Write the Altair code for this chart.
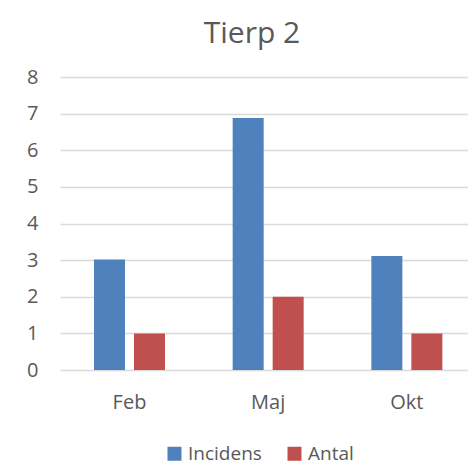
import altair as alt
import pandas as pd

months = ["Feb", "Maj", "Okt"]
series = ["Incidens", "Antal"]
incidens = [3.02, 6.88, 3.11]
antal = [1, 2, 1]
colors = ["#4F81BD", "#C0504D"]
y_ticks = [0, 1, 2, 3, 4, 5, 6, 7, 8]

rows = []
for m, v in zip(months, incidens):
    rows.append({"Månad": m, "Serie": "Incidens", "Värde": v})
for m, v in zip(months, antal):
    rows.append({"Månad": m, "Serie": "Antal", "Värde": v})
df = pd.DataFrame(rows)

FONT = "Open Sans"
TXT = "#595959"

chart = alt.Chart(df).mark_bar().encode(
    x=alt.X("Månad:N", sort=months,
            scale=alt.Scale(paddingInner=0.488, paddingOuter=0.215, align=0.57),
            axis=alt.Axis(title=None, labelAngle=0, ticks=False, domain=False,
                          labelFontSize=20, labelColor=TXT, labelFont=FONT,
                          labelPadding=22)),
    xOffset=alt.XOffset("Serie:N", sort=series,
                        scale=alt.Scale(paddingInner=0.225, paddingOuter=0)),
    y=alt.Y("Värde:Q",
            scale=alt.Scale(domain=[0, 8], nice=False),
            axis=alt.Axis(title=None, values=y_ticks, ticks=False, domain=False,
                          labelFontSize=20, labelColor=TXT, labelFont=FONT,
                          labelPadding=22, gridColor="#D9D9D9", gridWidth=1.3)),
    color=alt.Color("Serie:N", sort=series,
                    scale=alt.Scale(domain=series, range=colors),
                    legend=alt.Legend(title=None, orient="none", direction="horizontal",
                                      legendX=105, legendY=367,
                                      symbolType="square", symbolSize=196,
                                      symbolStrokeWidth=0,
                                      labelFontSize=19, labelColor=TXT, labelFont=FONT,
                                      labelOffset=4, columnPadding=23, padding=0)),
).properties(
    width=408,
    height=293,
    autosize=alt.AutoSizeParams(type="none"),
    padding={"left": 52, "top": 69, "right": 0, "bottom": 100},
    title=alt.TitleParams("Tierp 2", font=FONT, fontSize=30, fontWeight="normal",
                          color=TXT, anchor="middle", dx=-12, offset=18),
).configure_view(stroke=None)

chart.save("out.html", embed_options={"renderer": "svg", "actions": False})
